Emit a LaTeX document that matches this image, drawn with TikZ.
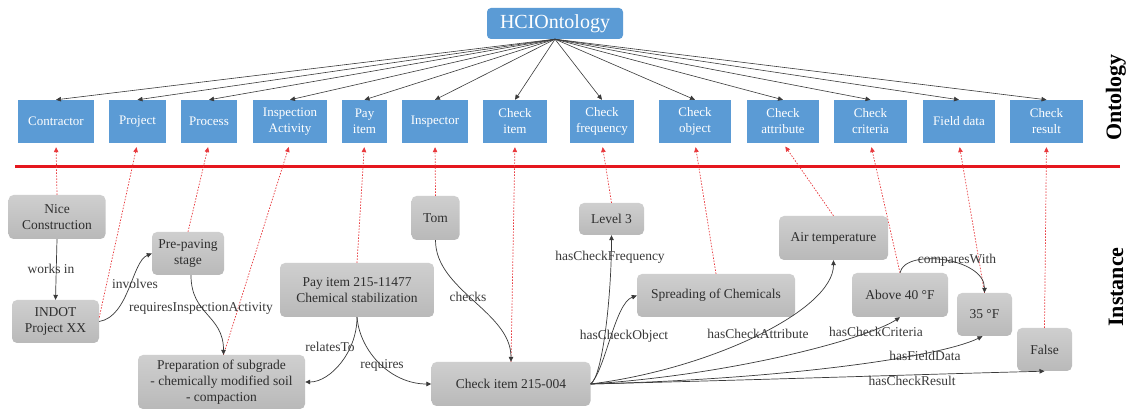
\documentclass[tikz,border=0pt]{standalone}
\usepackage{fontspec}
\setmainfont{Liberation Serif}
\usetikzlibrary{arrows.meta,calc}
\definecolor{obox}{HTML}{5B9BD5}
\definecolor{itop}{HTML}{CFCFCF}
\definecolor{ibot}{HTML}{B9B9B9}
\definecolor{itext}{HTML}{2E2E2E}
\definecolor{linkc}{HTML}{3A3A3A}
\definecolor{redline}{HTML}{E5171E}
\definecolor{typec}{HTML}{E8383C}
\tikzset{
  ontobox/.style={fill=obox, text=white, font=\fontsize{13}{16}\selectfont,
    align=center, inner sep=0pt, minimum height=43pt},
  instbox/.style={rounded corners=5pt, top color=itop, bottom color=ibot,
    text=itext, font=\fontsize{13.5}{16}\selectfont, align=center, inner sep=0pt},
  rel/.style={draw=linkc, line width=0.7pt, -{Triangle[length=5pt,width=4.5pt]}},
  subcls/.style={draw=linkc, line width=0.6pt, -{Triangle[length=5pt,width=4.5pt]}},
  typeof/.style={draw=typec, line width=0.7pt, dash pattern=on 1.5pt off 1.5pt,
    -{Triangle[length=5pt,width=4.5pt]}, shorten >=4pt},
  lbl/.style={text=linkc, font=\fontsize{13.5}{16}\selectfont, inner sep=0pt},
  side/.style={text=black, font=\bfseries\fontsize{22}{24}\selectfont, rotate=90, inner sep=0pt},
}
\begin{document}
\begin{tikzpicture}[x=1pt,y=-1pt]
\useasboundingbox[fill=white] (0,0) rectangle (1128,411);

% ---------------- ontology level ----------------
\node[fill=obox, rounded corners=4pt, text=white, font=\fontsize{20}{22}\selectfont,
      minimum width=136pt, minimum height=31pt, inner sep=0pt] (hci) at (555,23.5) {HCIOntology};

\node[ontobox, minimum width=76pt] (oContractor) at (56,121.5) {Contractor};
\node[ontobox, minimum width=57pt] (oProject) at (137.5,121.5) {Project};
\node[ontobox, minimum width=56pt] (oProcess) at (209,121.5) {Process};
\node[ontobox, minimum width=74pt] (oInspAct) at (290,121.5) {Inspection\\Activity};
\node[ontobox, minimum width=45pt] (oPayItem) at (364.5,121.5) {Pay\\item};
\node[ontobox, minimum width=66pt] (oInspector) at (435,121.5) {Inspector};
\node[ontobox, minimum width=64pt] (oCheckItem) at (515,121.5) {Check\\item};
\node[ontobox, minimum width=64pt] (oFreq) at (602,121.5) {Check\\frequency};
\node[ontobox, minimum width=72pt] (oObject) at (695,121.5) {Check\\object};
\node[ontobox, minimum width=72pt] (oAttr) at (783,121.5) {Check\\attribute};
\node[ontobox, minimum width=73pt] (oCrit) at (870.5,121.5) {Check\\criteria};
\node[ontobox, minimum width=72pt] (oField) at (959,121.5) {Field data};
\node[ontobox, minimum width=73pt] (oResult) at (1046.5,121.5) {Check\\result};

\foreach \t in {oContractor,oProject,oProcess,oInspAct,oPayItem,oInspector,oCheckItem,
                oFreq,oObject,oAttr,oCrit,oField,oResult}
  \draw[subcls] (hci.south) -- (\t.north);

\node[side] (sideOnto) at (1116,97.5) {Ontology};
\node[side] (sideInst) at (1116,287) {Instance};

% separator between the two levels
\coordinate (sepL) at (15,167);
\coordinate (sepR) at (1120,167);
\draw[redline, line width=3pt] (sepL) -- (sepR);

% ---------------- instance level ----------------
\node[instbox, minimum width=97pt, minimum height=44pt] (nice) at (57,217) {Nice\\Construction};
\node[instbox, minimum width=72pt, minimum height=43pt] (prepave) at (188,253.5) {Pre-paving\\stage};
\node[instbox, minimum width=87pt, minimum height=43pt] (indot) at (55.5,321.5) {INDOT\\Project XX};
\node[instbox, minimum width=154pt, minimum height=54pt] (payitem) at (357,290) {Pay item 215-11477\\Chemical stabilization};
\node[instbox, minimum width=48pt, minimum height=44pt] (tom) at (435.5,218) {Tom};
\node[instbox, minimum width=167pt, minimum height=54pt] (prep) at (221.5,382) {Preparation of subgrade\\- chemically modified soil\\- compaction};
\node[instbox, minimum width=159pt, minimum height=44pt] (checkitem) at (511,384) {Check item 215-004};
\node[instbox, minimum width=65pt, minimum height=32pt] (level) at (611.5,219) {Level 3};
\node[instbox, minimum width=109pt, minimum height=44pt] (airtemp) at (833.5,238) {Air temperature};
\node[instbox, minimum width=158pt, minimum height=43pt] (spread) at (716,295.5) {Spreading of Chemicals};
\node[instbox, minimum width=96pt, minimum height=44pt] (above) at (900,295) {Above 40 °F};
\node[instbox, minimum width=55pt, minimum height=43pt] (thirtyfive) at (984.5,314.5) {35 °F};
\node[instbox, minimum width=55pt, minimum height=43pt] (false) at (1044.5,349.5) {False};

% instance-of links
\draw[typeof] (nice.north) -- (oContractor.south);
\draw[typeof] ([yshift=4pt]indot.east) -- (oProject.south);
\draw[typeof] (prepave.north) -- (oProcess.south);
\draw[typeof] ([xshift=2pt]prep.north) -- (oInspAct.south);
\draw[typeof] (payitem.north) -- (oPayItem.south);
\draw[typeof] (tom.north) -- (oInspector.south);
\draw[typeof] (checkitem.north) -- (oCheckItem.south);
\draw[typeof] (level.north) -- (oFreq.south);
\draw[typeof] (spread.north) -- (oObject.south);
\draw[typeof] (airtemp.north) -- (oAttr.south);
\draw[typeof] (above.north) -- (oCrit.south);
\draw[typeof] (thirtyfive.north) -- (oField.south);
\draw[typeof] (false.north) -- (oResult.south);

% relations between instances
\draw[rel] (nice.south) -- (indot.north);
\draw[rel] (indot.east) .. controls +(30,-5) and +(-20,8) .. (prepave.west);
\draw[rel] ([xshift=3pt]prepave.south) .. controls +(0,40) and +(0,-40) .. ([xshift=2pt]prep.north);
\draw[rel] (payitem.south) .. controls +(0,35) and +(25,0) .. (prep.east);
\draw[rel] (payitem.south) .. controls +(3,35) and +(-40,0) .. (checkitem.west);
\draw[rel] (tom.south) .. controls +(0,50) and +(0,-50) .. (checkitem.north);
\draw[rel] (checkitem.east) .. controls +(12,-8) and +(0,60) .. (level.south);
\draw[rel] (checkitem.east) .. controls +(15,-15) and +(-22,8) .. (spread.west);
\draw[rel] (checkitem.east) .. controls +(120,-15) and +(0,50) .. (airtemp.south);
\draw[rel] (checkitem.east) .. controls +(150,-10) and +(-30,20) .. (above.south);
\draw[rel] (checkitem.east) .. controls +(200,-5) and +(-40,20) .. ([xshift=-2pt]thirtyfive.south);
\draw[rel] (checkitem.east) .. controls +(200,-5) and +(-120,3) .. (false.south);
\draw[rel] (above.north) .. controls +(5,-25) and +(0,-35) .. (thirtyfive.north);

% relation labels
\node[lbl] (lWorks) at (51,269) {works in};
\node[lbl] (lInvolves) at (135,284) {involves};
\node[lbl] (lReqIA) at (201,308) {requiresInspectionActivity};
\node[lbl] (lRelates) at (330,347) {relatesTo};
\node[lbl] (lRequires) at (382,365) {requires};
\node[lbl] (lChecks) at (468,297) {checks};
\node[lbl] (lFreq) at (610,257) {hasCheckFrequency};
\node[lbl] (lObject) at (624,336) {hasCheckObject};
\node[lbl] (lAttr) at (758,334) {hasCheckAttribute};
\node[lbl] (lCrit) at (876,332) {hasCheckCriteria};
\node[lbl] (lField) at (925,356) {hasFieldData};
\node[lbl] (lResult) at (912,381) {hasCheckResult};
\node[lbl] (lCompares) at (957,260) {comparesWith};
\end{tikzpicture}
\end{document}
